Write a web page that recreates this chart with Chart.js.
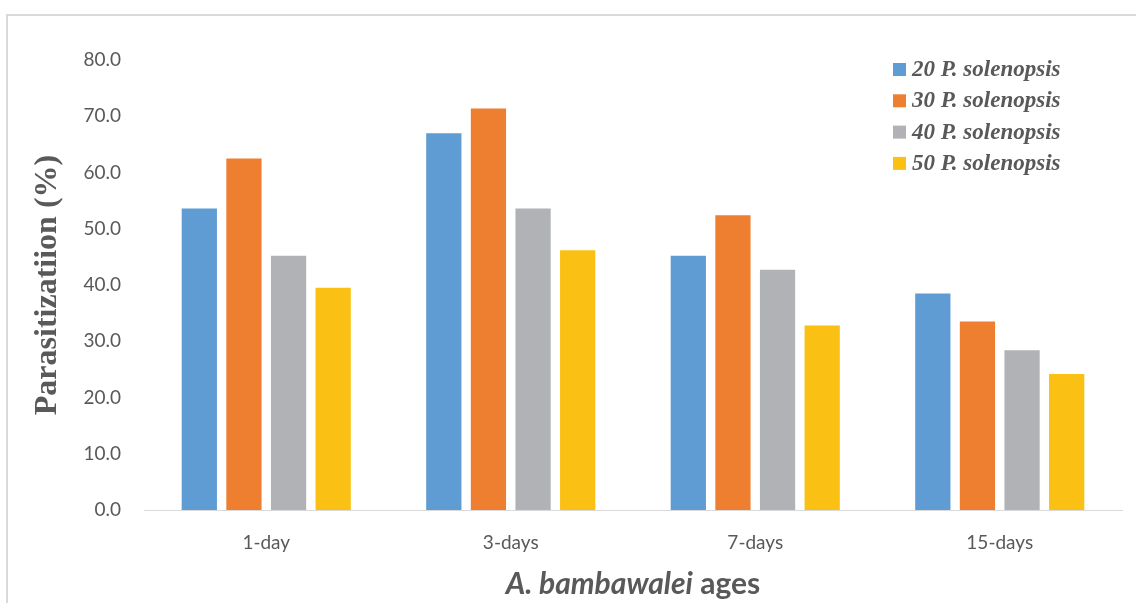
<!DOCTYPE html>
<html>
<head>
<meta charset="utf-8">
<script src="https://cdn.jsdelivr.net/npm/chart.js@4"></script>
<style>
  html, body { margin: 0; padding: 0; background: #fff; }
  #wrap { position: relative; width: 1136px; height: 603px; overflow: hidden; }
  #frame { position: absolute; left: 6px; top: 14px; width: 1200px; height: 700px; border: 2px solid #d9d9d9; box-sizing: border-box; }
  #myChart { position: absolute; left: 0; top: 0; }
</style>
</head>
<body>
<div id="wrap">
  <div id="frame"></div>
  <canvas id="myChart" width="1136" height="603"></canvas>
</div>
<script>
const ages = ['1-day', '3-days', '7-days', '15-days'];
const seriesNames = ['20 P. solenopsis', '30 P. solenopsis', '40 P. solenopsis', '50 P. solenopsis'];
const p20 = [53.6, 67.0, 45.2, 38.5];
const p30 = [62.5, 71.4, 52.4, 33.5];
const p40 = [45.2, 53.6, 42.7, 28.4];
const p50 = [39.5, 46.2, 32.8, 24.2];
const colors = ['#5e9cd3', '#ee7f30', '#b1b2b5', '#fbc014'];

const textGray = '#595959';

// legend drawn inside the plot, top right
const insideLegend = {
    id: 'insideLegend',
    afterDraw(chart) {
        const ctx = chart.ctx;
        ctx.save();
        ctx.font = 'italic bold 23px "Liberation Serif"';
        ctx.textBaseline = 'middle';
        chart.data.datasets.forEach((ds, i) => {
            const y = 69 + i * 31.3;
            ctx.fillStyle = ds.backgroundColor;
            ctx.fillRect(893, y - 6, 13, 13);
            ctx.fillStyle = textGray;
            ctx.fillText(ds.label, 912, y + 1);
        });
        ctx.restore();
    }
};

// x title with mixed italic / normal parts
const xTitle = {
    id: 'xTitle',
    afterDraw(chart) {
        const ctx = chart.ctx;
        const a = chart.chartArea;
        const part1 = 'A. bambawalei';
        const part2 = ' ages';
        ctx.save();
        ctx.textBaseline = 'middle';
        ctx.fillStyle = textGray;
        const f1 = 'italic bold 30px Lato';
        const f2 = 'bold 30px Lato';
        ctx.font = f1;
        const w1 = ctx.measureText(part1).width;
        ctx.font = f2;
        const w2 = ctx.measureText(part2).width;
        let x = (a.left + a.right) / 2 - (w1 + w2) / 2;
        ctx.font = f1;
        ctx.fillText(part1, x, 584);
        ctx.font = f2;
        ctx.fillText(part2, x + w1, 584);
        ctx.restore();
    }
};

const ctx1 = document.getElementById('myChart').getContext('2d');
const myChart = new Chart(ctx1, {
    type: 'bar',
    data: {
        labels: ages,
        datasets: [p20, p30, p40, p50].map((d, i) => ({
            label: seriesNames[i],
            data: d,
            backgroundColor: colors[i],
            categoryPercentage: 0.73,
            barPercentage: 0.79
        }))
    },
    options: {
        responsive: false,
        animation: false,
        layout: { padding: { top: 60, right: 14, left: 0, bottom: 0 } },
        plugins: {
            legend: { display: false },
            tooltip: { enabled: false }
        },
        scales: {
            x: {
                grid: { display: false, drawTicks: false },
                border: { display: true, color: '#d9d9d9', width: 1 },
                ticks: { color: textGray, font: { family: 'Lato', size: 19 }, padding: 21 },
                afterFit(scale) { scale.height = 93; }
            },
            y: {
                min: 0,
                max: 80,
                grid: { display: false, drawTicks: false },
                border: { display: false },
                ticks: {
                    stepSize: 10,
                    color: textGray,
                    font: { family: 'Lato', size: 19 },
                    padding: 23,
                    callback: v => v.toFixed(1)
                },
                title: {
                    display: true,
                    text: 'Parasitizatiion (%)',
                    color: textGray,
                    font: { family: 'Liberation Serif', size: 32, weight: 'bold' },
                    padding: { top: 29, bottom: 0 }
                },
                afterFit(scale) { scale.width = 144; }
            }
        }
    },
    plugins: [insideLegend, xTitle]
});
</script>
</body>
</html>
